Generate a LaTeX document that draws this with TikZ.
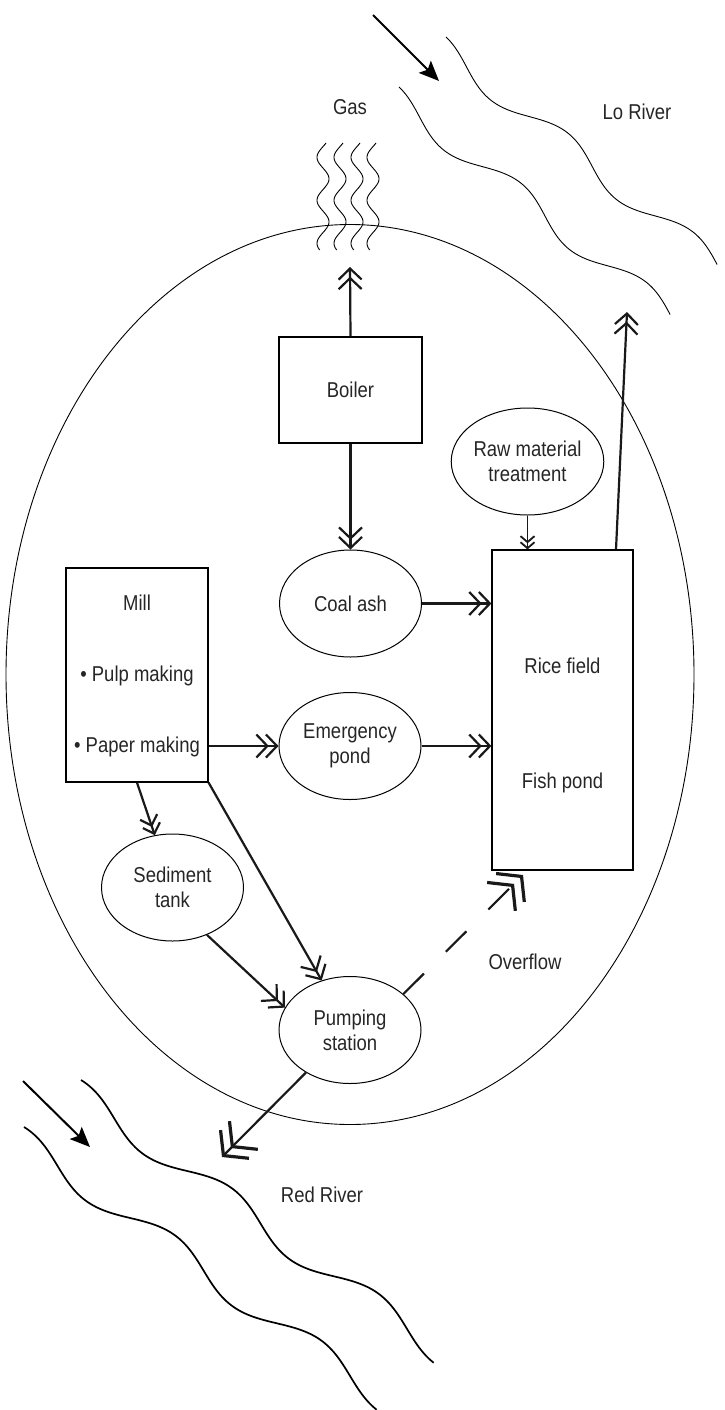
\documentclass[tikz,border=0pt]{standalone}
\usepackage{fontspec}
\setmainfont{Liberation Sans}[FakeStretch=0.86]
\usetikzlibrary{arrows.meta,shapes.geometric}
\begin{document}
\begin{tikzpicture}[x=1pt,y=-1pt,
  declare function={
    loF(\s)=11*(sin(2.25*(\s-35))+0.98*(1-\s/354));
    rdF(\s)=12*(sin(2*(\s-50))+0.985-1.98*\s/452);
  },
  lbl/.style={font=\fontsize{21.5}{25}\selectfont, text=black!85, inner sep=0pt, align=center},
  box/.style={draw, line width=1.2pt, rectangle, inner sep=0pt},
  oval/.style={lbl, draw, line width=1pt, ellipse, inner sep=0pt, minimum width=142pt, minimum height=107pt},
  conn/.style={line width=2.2pt, black!90},
  dchev/.style={conn, -{Straight Barb[length=11pt,width=23pt,sep=-4pt]Straight Barb[length=11pt,width=23pt]}},
  mchev/.style={conn, -{Straight Barb[length=9pt,width=18pt,sep=-3pt]Straight Barb[length=9pt,width=18pt]}},
  schev/.style={conn, line width=1.8pt, -{Straight Barb[length=6pt,width=14pt,sep=-2pt]Straight Barb[length=6pt,width=14pt]}},
  bigchev/.style={conn, -{Straight Barb[length=16pt,width=40pt,line width=3.2pt,sep=-7pt]Straight Barb[length=16pt,width=40pt,line width=3.2pt]}},
  flow/.style={line width=2pt, -{Stealth[length=20pt,width=17pt,inset=4pt]}},
  thinline/.style={line width=0.9pt},
  redline/.style={line width=1.7pt}
]
\useasboundingbox (0,0) rectangle (725,1410);

% site boundary
\draw[thinline] (350,674.5) ellipse [x radius=344pt, y radius=450pt];

% rivers
\draw[thinline] plot[domain=0:354, samples=150, variable=\s] ({446+0.7651*\s-0.6437*loF(\s)}, {37+0.6437*\s+0.7651*loF(\s)});
\draw[thinline] plot[domain=0:354, samples=150, variable=\s] ({399+0.7651*\s-0.6437*loF(\s)}, {87+0.6437*\s+0.7651*loF(\s)});
\draw[redline] plot[domain=0:452, samples=150, variable=\s] ({81+0.7803*\s-0.6256*rdF(\s)}, {1080+0.6256*\s+0.7803*rdF(\s)});
\draw[redline] plot[domain=0:452, samples=150, variable=\s] ({24+0.7803*\s-0.6256*rdF(\s)}, {1127+0.6256*\s+0.7803*rdF(\s)});

% gas
\foreach \gx in {323,340,357,373}
  \draw[thinline] plot[domain=143:250, samples=80, variable=\t] ({\gx+6*sin(8.372*(\t-143)+150)}, {\t});

% nodes
\node[box, lbl, minimum width=143pt, minimum height=106pt] (boiler) at (350.5,390) {Boiler};
\node[oval] (coal) at (350.5,603.5) {Coal ash};
\node[oval] (emerg) at (350,746) {Emergency\\pond};
\node[oval] (raw) at (527.5,461.5) {Raw material\\treatment};
\node[box, minimum width=141pt, minimum height=320pt] (rice) at (562.5,710) {};
\node[lbl] (ricet) at (562.5,666) {Rice field};
\node[lbl] (fisht) at (562.5,783) {Fish pond};
\node[box, minimum width=142pt, minimum height=214pt] (mill) at (137,675) {};
\node[lbl] (millt) at (137,603) {Mill};
\node[lbl] (pulp) at (137,676) {• Pulp making};
\node[lbl] (paper) at (137,747) {• Paper making};
\node[oval] (sed) at (172.5,887.5) {Sediment\\tank};
\node[oval] (pump) at (350,1030) {Pumping\\station};

\node[lbl] (gas) at (350,107) {Gas};
\node[lbl] (lo) at (637,112) {Lo River};
\node[lbl] (red) at (322,1195) {Red River};
\node[lbl] (over) at (525,962) {Overflow};

% connectors
\coordinate (gastip) at (350,267);
\draw[dchev] (boiler.north) -- (gastip);
\draw[dchev] (boiler.south) -- (coal.north);
\draw[schev] (raw.south) -- (raw.south |- rice.north);
\coordinate (lotip) at (627,312);
\draw[dchev] ([xshift=53.5pt]rice.north) -- (lotip);
\draw[dchev] (coal.east) -- (coal.east -| rice.west);
\draw[dchev] (emerg.east) -- (emerg.east -| rice.west);
\draw[dchev] (mill.east |- emerg.west) -- (emerg.west);
\draw[mchev] (mill.south) -- (sed);
\draw[dchev] (mill.south east) -- (pump);
\draw[dchev] (sed.-54) -- (pump.161);
\coordinate (ovtip) at (523,875);
\draw[bigchev, dash pattern=on 29pt off 31pt] (pump.34) -- (ovtip);
\coordinate (rrtip) at (222,1157);
\draw[bigchev] (pump.-136) -- (rrtip);

% river flow arrows
\coordinate (lo1) at (373,15);
\coordinate (lo2) at (439,81);
\draw[flow] (lo1) -- (lo2);
\coordinate (rd1) at (23,1081);
\coordinate (rd2) at (90,1147);
\draw[flow] (rd1) -- (rd2);
\end{tikzpicture}
\end{document}
